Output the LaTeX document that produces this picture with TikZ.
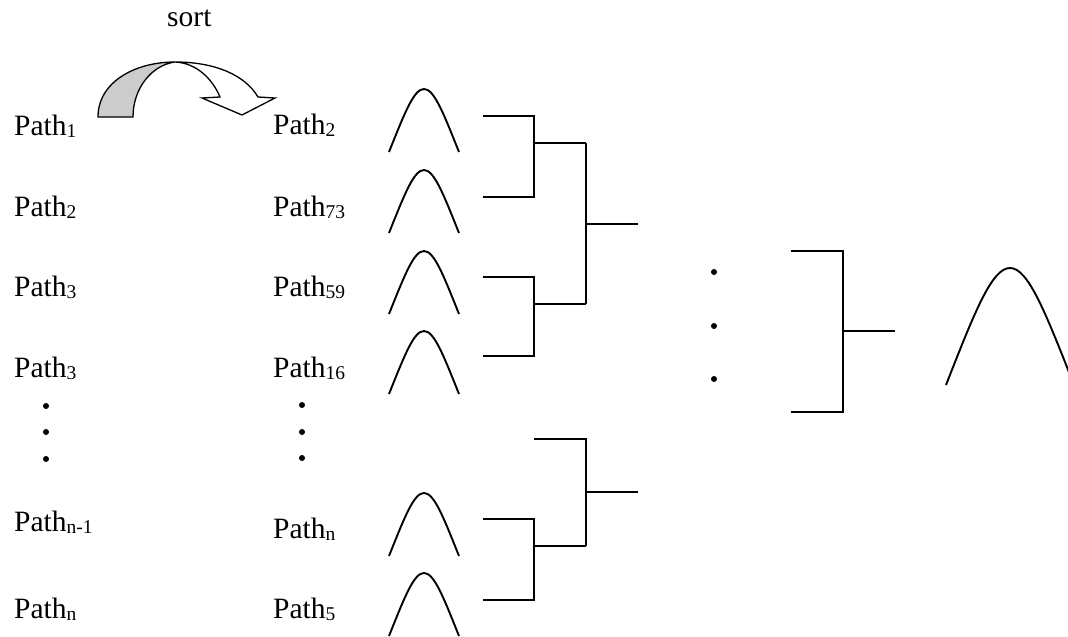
\documentclass[tikz,border=0pt]{standalone}
\usepackage{fontspec}
\setmainfont{Liberation Serif}
\newcommand{\plbl}[1]{Path\raisebox{-2.5pt}{\fontsize{19.5}{21}\selectfont #1}}
\tikzset{
  lbl/.style={inner sep=0pt, anchor=base west, font=\fontsize{29.5}{31}\selectfont},
  ln/.style={line width=1.9pt},
  dotmark/.style={circle, fill=black, inner sep=0pt, minimum size=6pt},
  bell/.pic={\draw[ln] (-35,63) .. controls (-19,23) and (-10,0) .. (0,0) .. controls (10,0) and (19,23) .. (35,63);}
}
\begin{document}
\begin{tikzpicture}[x=1pt,y=-1pt]
\useasboundingbox (0,0) rectangle (1068,637);
% sort arrow
\node[lbl] (sort) at (167,26) {sort};
\fill[gray!40] (98,117) .. controls (98,82) and (135,62) .. (175,62) .. controls (152,65) and (133,88) .. (133,117) -- cycle;
\draw[line width=1.3pt, line join=miter]
  (98,117) .. controls (98,82) and (135,62) .. (175,62)
  .. controls (215,62) and (245,75) .. (258,97) -- (275,98) -- (242,115) -- (202,98) -- (220,97)
  .. controls (212,78) and (196,63) .. (175,62)
  .. controls (152,65) and (133,88) .. (133,117) -- cycle;
% left column
\node[lbl] (l1) at (14,135) {\plbl{1}};
\node[lbl] (l2) at (14,216) {\plbl{2}};
\node[lbl] (l3) at (14,296) {\plbl{3}};
\node[lbl] (l4) at (14,377) {\plbl{3}};
\node[lbl] (l5) at (14,531) {\plbl{n-1}};
\node[lbl] (l6) at (14,618) {\plbl{n}};
\node[dotmark] (ld1) at (46,406) {};
\node[dotmark] (ld2) at (46,432) {};
\node[dotmark] (ld3) at (46,459) {};
% right column
\node[lbl] (r1) at (273,134) {\plbl{2}};
\node[lbl] (r2) at (273,216) {\plbl{73}};
\node[lbl] (r3) at (273,296) {\plbl{59}};
\node[lbl] (r4) at (273,377) {\plbl{16}};
\node[lbl] (r5) at (273,538) {\plbl{n}};
\node[lbl] (r6) at (273,618) {\plbl{5}};
\node[dotmark] (rd1) at (302,405) {};
\node[dotmark] (rd2) at (302,432) {};
\node[dotmark] (rd3) at (302,458) {};
% bells
\pic at (424,89) {bell};
\pic at (424,170) {bell};
\pic at (424,251) {bell};
\pic at (424,331) {bell};
\pic at (424,493) {bell};
\pic at (424,573) {bell};
% brackets
\draw[ln] (483,116) -- (534,116) -- (534,197) -- (483,197);
\draw[ln] (534,143) -- (586,143);
\draw[ln] (483,277) -- (534,277) -- (534,356) -- (483,356);
\draw[ln] (534,304) -- (586,304);
\draw[ln] (586,143) -- (586,304);
\draw[ln] (586,224) -- (638,224);
\draw[ln] (483,519) -- (534,519) -- (534,600) -- (483,600);
\draw[ln] (534,546) -- (586,546);
\draw[ln] (534,439) -- (586,439) -- (586,546);
\draw[ln] (586,492) -- (638,492);
% middle dots
\node[dotmark] (md1) at (714,272) {};
\node[dotmark] (md2) at (714,326) {};
\node[dotmark] (md3) at (714,379) {};
% final bracket
\draw[ln] (791,251) -- (843,251) -- (843,412) -- (791,412);
\draw[ln] (843,331) -- (895,331);
% final bell
\draw[ln] (946,385) .. controls (975,311) and (992,268) .. (1010,268) .. controls (1028,268) and (1045,311) .. (1074,385);
\end{tikzpicture}
\end{document}
